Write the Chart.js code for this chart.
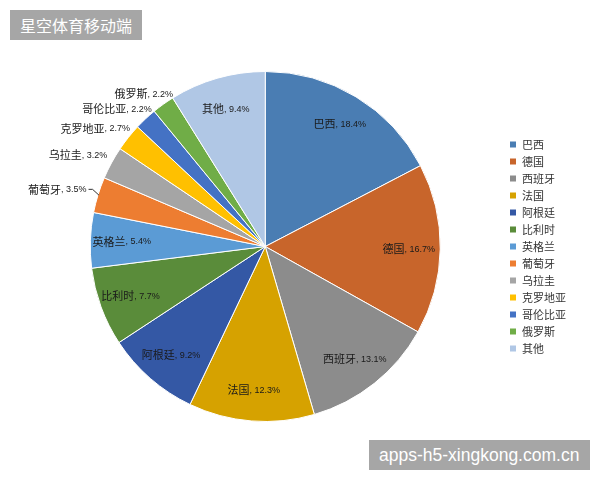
<!DOCTYPE html>
<html>
<head>
<meta charset="utf-8">
<script src="https://cdn.jsdelivr.net/npm/chart.js@4/dist/chart.umd.min.js"></script>
<style>
  html, body { margin: 0; padding: 0; background: #fff; }
  #wrap { position: relative; width: 600px; height: 480px; }
  #title { position: absolute; left: 10px; top: 10px; width: 132px; height: 30px; background: #A6A6A6; color: #fff;
    font: 16px "Noto Sans CJK SC", sans-serif; line-height: 30px; box-sizing: border-box; padding-left: 10px; }
  #mark { position: absolute; left: 369px; top: 440px; width: 221px; height: 30px; background: #A6A6A6; color: #fff;
    font: 17.5px "Liberation Sans", sans-serif; line-height: 30px; box-sizing: border-box; padding-left: 10px; }
</style>
</head>
<body>
<div id="wrap">
  <canvas id="c" width="600" height="480"></canvas>
  <div id="title">星空体育移动端</div>
  <div id="mark">apps-h5-xingkong.com.cn</div>
</div>
<script>
const categories = ["巴西","德国","西班牙","法国","阿根廷","比利时","英格兰","葡萄牙","乌拉圭","克罗地亚","哥伦比亚","俄罗斯","其他"];
const shares = [18.4, 16.7, 13.1, 12.3, 9.2, 7.7, 5.4, 3.5, 3.2, 2.7, 2.2, 2.2, 9.4];
const sliceColors = ["#4A7DB3","#C8652B","#8C8C8C","#D6A200","#3458A5","#5A8C3A","#5B9BD5","#ED7D31","#A5A5A5","#FFC000","#4472C4","#70AD47","#B0C7E5"];

const labelPlugin = {
  id: 'sliceLabels',
  afterDatasetsDraw(chart) {
    const ctx = chart.ctx;
    const meta = chart.getDatasetMeta(0);
    const nameFont = '11px "Noto Sans CJK SC", sans-serif';
    const numFont = '9px "Liberation Sans", sans-serif';
    ctx.save();
    ctx.fillStyle = '#1a1a1a';
    ctx.textBaseline = 'middle';
    meta.data.forEach((arc, i) => {
      const p = arc.getProps(['x','y','startAngle','endAngle','outerRadius'], true);
      const mid = (p.startAngle + p.endAngle) / 2;
      const r = p.outerRadius;
      const name = categories[i];
      const num = ', ' + shares[i].toFixed(1) + '%';
      ctx.font = nameFont; const w1 = ctx.measureText(name).width;
      ctx.font = numFont; const w2 = ctx.measureText(num).width;
      const w = w1 + w2;
      let xl, y;
      if (shares[i] >= 5) {
        const cx = p.x + Math.cos(mid) * r * 0.82;
        y = p.y + Math.sin(mid) * r * 0.82;
        xl = cx - w / 2;
      } else {
        const up = -Math.sin(mid);
        if (up < 0.4) {
          const ax = p.x + Math.cos(mid) * (r + 12);
          const ay = p.y + Math.sin(mid) * (r + 12);
          xl = ax - w; y = ay - 2;
          ctx.strokeStyle = '#333'; ctx.lineWidth = 1;
          ctx.beginPath();
          ctx.moveTo(ax + 2, y);
          ctx.lineTo(ax + 6, y);
          ctx.lineTo(p.x + Math.cos(mid) * (r - 1), p.y + Math.sin(mid) * (r - 1));
          ctx.stroke();
        } else {
          const ax = p.x + Math.cos(mid) * (r + 8);
          const ay = p.y + Math.sin(mid) * (r + 8);
          const shift = Math.max(0, up - 0.4) * 35;
          xl = ax + shift - w; y = ay - 4;
        }
      }
      ctx.textAlign = 'left';
      ctx.font = nameFont; ctx.fillText(name, xl, y);
      ctx.font = numFont; ctx.fillText(num, xl + w1, y + 0.5);
    });
    ctx.restore();
  }
};

new Chart(document.getElementById('c'), {
  type: 'pie',
  data: {
    labels: categories,
    datasets: [{
      data: shares,
      backgroundColor: sliceColors,
      borderColor: '#ffffff',
      borderWidth: 1,
      radius: 175,
      hoverOffset: 0
    }]
  },
  options: {
    responsive: false,
    animation: false,
    layout: { padding: { left: 27, right: 24, top: 72, bottom: 59 } },
    plugins: {
      tooltip: { enabled: false },
      legend: {
        position: 'right',
        labels: {
          boxWidth: 7, boxHeight: 7, padding: 6,
          color: '#333',
          font: { size: 11, family: '"Noto Sans CJK SC", sans-serif' }
        }
      }
    }
  },
  plugins: [labelPlugin]
});
</script>
</body>
</html>
